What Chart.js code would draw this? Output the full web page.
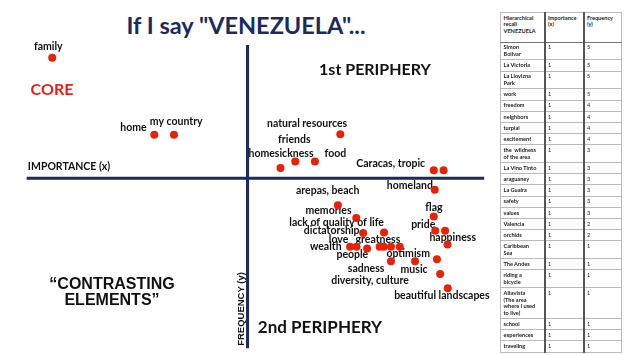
<!DOCTYPE html>
<html>
<head>
<meta charset="utf-8">
<script src="https://cdn.jsdelivr.net/npm/chart.js@4/dist/chart.umd.min.js"></script>
<style>
  html, body { margin:0; padding:0; background:#fff; }
  body { width:624px; height:355px; position:relative; overflow:hidden; }
  #c { position:absolute; left:0; top:0; }
  .t { position:absolute; transform:translate(-50%,-50%); white-space:nowrap; line-height:1; font-weight:700; }
  #title { left:246px; top:25px; font:700 23.5px Lato, sans-serif; color:#1b2b5e; }
  #core { left:52px; top:88px; font:700 16px Lato, sans-serif; color:#e0221b; }
  #p1 { left:375px; top:68px; font:700 16px Lato, sans-serif; color:#111; }
  #p2 { left:320px; top:326px; font:700 17px Lato, sans-serif; color:#111; }
  #ce { left:112px; top:292px; font:700 16px "Liberation Sans", Arial, sans-serif; color:#111; text-align:center; line-height:16px; }
  #imp { left:69px; top:166px; font:700 10.5px Lato, sans-serif; color:#111; }
  #freq { left:240px; top:309px; font:700 9.5px "Liberation Sans", Arial, sans-serif; color:#111; transform:translate(-50%,-50%) rotate(-90deg); }
  table { position:absolute; left:500px; top:12px; width:121px; border-collapse:collapse; table-layout:fixed;
          font:5.6px Lato, sans-serif; color:#222; }
  td { border:1px solid #bbb; padding:1.8px 2.5px; line-height:6.6px; vertical-align:top; white-space:pre; overflow:hidden; }
  td:nth-child(2), td:nth-child(3) { border-left:2px solid #555; }
  tr.head td { height:25px; border-bottom:1.5px solid #777; font-weight:700; }
  td.w { font-weight:700; }
</style>
</head>
<body>
<div id="title" class="t">If I say "VENEZUELA"...</div>
<canvas id="c" width="500" height="355"></canvas>
<div id="core" class="t">CORE</div>
<div id="p1" class="t">1st PERIPHERY</div>
<div id="p2" class="t">2nd PERIPHERY</div>
<div id="ce" class="t">“CONTRASTING<br>ELEMENTS”</div>
<div id="imp" class="t">IMPORTANCE (x)</div>
<div id="freq" class="t">FREQUENCY (y)</div>
<table id="tbl">
  <colgroup><col style="width:44px"><col style="width:39px"><col style="width:38px"></colgroup>
  <tbody id="tb"></tbody>
</table>
<script>
// ---- table data ----
const tableHeaders = ["Hierarchical\nrecall\nVENEZUELA", "Importance\n(x)", "Frequency\n(y)"];
const recallWords = ["Simon\nBolivar","La Victoria","La Llovizna\nPark","work","freedom","neighbors","turpial","excitement","the  wildness\nof the area","La Vino Tinto","araguaney","La Guaira","safety","values","Valencia","orchids","Caribbean\nSea","The Andes","riding a\nbicycle","Altavista\n(The area\nwhere I used\nto live)","school","experiences","traveling"];
const recallImportance = [1,1,1,1,1,1,1,1,1,1,1,1,1,1,1,1,1,1,1,1,1,1,1];
const recallFrequency  = [5,5,5,5,4,4,4,4,3,3,3,3,3,3,2,2,1,1,1,1,1,1,1];

// ---- scatter data (importance x, frequency y; axes cross at 0,0) ----
const importanceX = [-7.94,-3.79,-2.99,3.77,1.34,1.94,2.74,7.57,7.97,7.61,3.67,4.42,4.70,5.55,7.57,7.63,8.03,8.13,4.17,4.43,4.86,5.37,5.54,5.83,6.19,5.83,6.81,7.70,7.83,8.14];
const frequencyY  = [4.93,1.78,1.78,1.80,0.42,0.69,0.69,0.33,0.33,-0.47,-1.10,-1.63,-2.24,-2.22,-1.56,-2.15,-2.15,-2.71,-2.80,-2.80,-2.87,-2.80,-2.80,-2.80,-2.80,-3.40,-3.40,-3.31,-3.92,-4.50];

// ---- word labels (text, x, y) in the same units ----
const wordText = ["family","home","my country","natural resources","friends","homesickness","food","Caracas, tropic","homeland","arepas, beach","memories","lack of quality of life","dictatorship","love","greatness","wealth","people","optimism","sadness","music","diversity, culture","beautiful landscapes","flag","pride","happiness"];
const wordX = [-8.10,-4.64,-2.90,2.42,1.90,1.36,3.57,5.82,6.60,3.26,3.29,3.62,3.42,3.70,5.30,3.18,4.26,6.53,4.82,6.77,4.98,7.90,7.58,7.14,8.34];
const wordY = [5.37,2.06,2.30,2.24,1.58,1.00,1.00,0.58,-0.30,-0.50,-1.34,-1.83,-2.14,-2.51,-2.51,-2.80,-3.14,-3.08,-3.71,-3.74,-4.20,-4.80,-1.18,-1.90,-2.43];

// build table
const tb = document.getElementById('tb');
const hr = document.createElement('tr'); hr.className = 'head';
tableHeaders.forEach(h => { const td = document.createElement('td'); td.textContent = h; hr.appendChild(td); });
tb.appendChild(hr);
recallWords.forEach((w, i) => {
  const tr = document.createElement('tr');
  [w, String(recallImportance[i]), String(recallFrequency[i])].forEach((v, j) => {
    const td = document.createElement('td'); td.textContent = v; if (j === 0) td.className = 'w'; tr.appendChild(td);
  });
  tb.appendChild(tr);
});

const AXIS_COLOR = '#1c2a5c';
const crossAxes = {
  id: 'crossAxes',
  beforeDatasetsDraw(chart) {
    const {ctx, scales:{x, y}} = chart;
    ctx.save();
    ctx.font = '700 10.5px Lato, sans-serif';
    ctx.fillStyle = '#111';
    ctx.textAlign = 'center';
    ctx.textBaseline = 'middle';
    wordText.forEach((t, i) => ctx.fillText(t, x.getPixelForValue(wordX[i]), y.getPixelForValue(wordY[i])));
    ctx.restore();
    ctx.save();
    ctx.strokeStyle = AXIS_COLOR;
    ctx.lineWidth = 3;
    ctx.beginPath();
    ctx.moveTo(x.getPixelForValue(-8.98), y.getPixelForValue(0));
    ctx.lineTo(x.getPixelForValue(9.62), y.getPixelForValue(0));
    ctx.moveTo(x.getPixelForValue(0), y.getPixelForValue(5.45));
    ctx.lineTo(x.getPixelForValue(0), y.getPixelForValue(-6.96));
    ctx.stroke();
    ctx.restore();
  }
};

new Chart(document.getElementById('c'), {
  type: 'scatter',
  data: {
    datasets: [{
      data: importanceX.map((v, i) => ({x: v, y: frequencyY[i]})),
      backgroundColor: '#e5230b',
      borderColor: '#e5230b',
      borderWidth: 0,
      pointRadius: 4,
      pointStyle: 'circle'
    }]
  },
  options: {
    responsive: false,
    animation: false,
    layout: { padding: 0 },
    plugins: { legend: { display: false }, tooltip: { enabled: false } },
    scales: {
      x: { type: 'linear', min: -9.9, max: 10.1, display: false },
      y: { type: 'linear', min: -7.068, max: 7.132, display: false }
    }
  },
  plugins: [crossAxes]
});
</script>
</body>
</html>
